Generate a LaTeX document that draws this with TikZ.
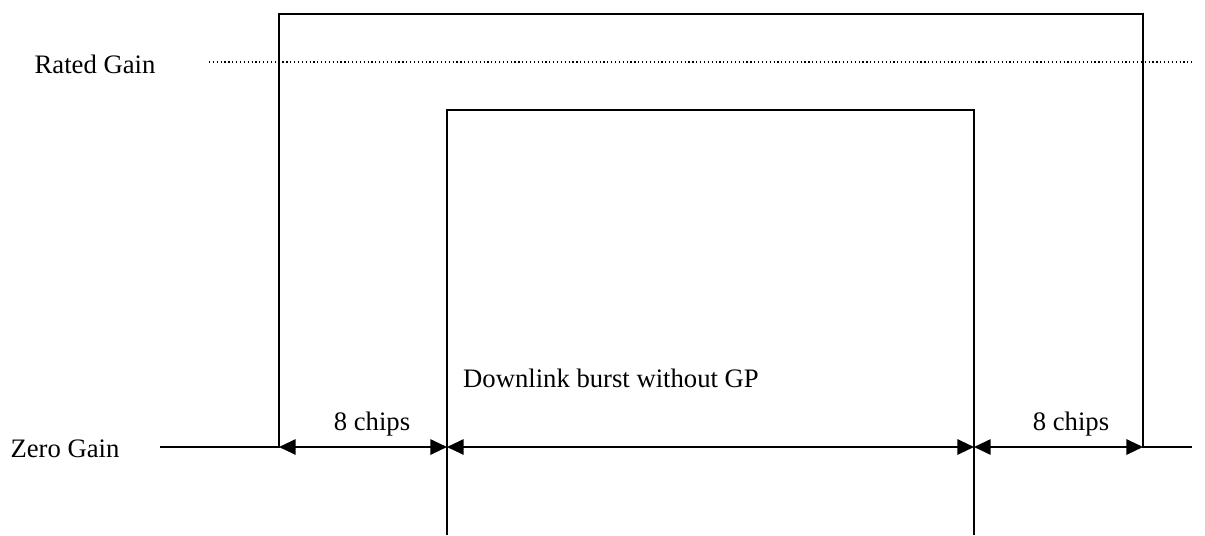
\documentclass[tikz,border=0pt]{standalone}
\usepackage{fontspec}
\setmainfont{Liberation Serif}
\usetikzlibrary{arrows.meta}
\begin{document}
\begin{tikzpicture}[x=0.75pt,y=-0.75pt,
  line/.style={line width=1.5pt},
  dim/.style={line width=1.5pt,{Triangle[length=12.5pt,width=11.5pt]}-{Triangle[length=12.5pt,width=11.5pt]}},
  lbl/.style={font=\fontsize{20pt}{24pt}\selectfont,inner sep=0pt}]
\useasboundingbox (0,0) rectangle (1205,535);
% coordinates
\coordinate (zl) at (160,447);
\coordinate (o1) at (279,447);
\coordinate (o1t) at (279,14);
\coordinate (o2t) at (1143,14);
\coordinate (o2) at (1143,447);
\coordinate (zr) at (1192,447);
\coordinate (i1b) at (447,535);
\coordinate (i1) at (447,447);
\coordinate (i1t) at (447,110);
\coordinate (i2t) at (974,110);
\coordinate (i2) at (974,447);
\coordinate (i2b) at (974,535);
\coordinate (d1) at (209,62);
\coordinate (d2) at (1192,62);
% labels
\node[lbl] (rated) at (95,64) {Rated Gain};
\node[lbl] (zero) at (65,449) {Zero Gain};
\node[lbl] (c1) at (372,424) {8 chips};
\node[lbl] (c2) at (1071,424) {8 chips};
\node[lbl] (burst) at (611,378) {Downlink burst without GP};
% dotted rated gain line
\draw[line width=0.9pt,dotted] (d1) -- (d2);
% outer envelope
\draw[line] (zl) -- (o1) -- (o1t) -- (o2t) -- (o2) -- (zr);
% inner burst
\draw[line] (i1b) -- (i1t) -- (i2t) -- (i2b);
% dimension arrows
\draw[dim] (o1) -- (i1);
\draw[dim] (i1) -- (i2);
\draw[dim] (i2) -- (o2);
\end{tikzpicture}
\end{document}
